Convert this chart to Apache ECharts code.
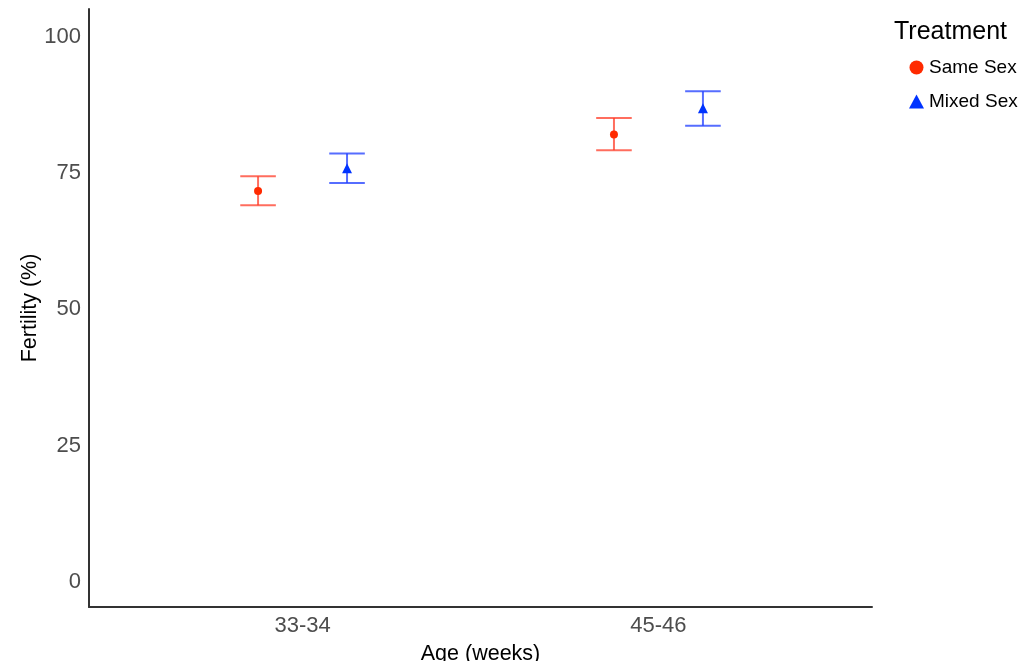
<!DOCTYPE html>
<html>
<head>
<meta charset="utf-8">
<script src="https://cdn.jsdelivr.net/npm/echarts@6/dist/echarts.min.js"></script>
<style>
  html, body { margin: 0; padding: 0; background: #fff; }
  #chart { width: 1035px; height: 661px; }
</style>
</head>
<body>
<div id="chart"></div>
<script>
// data
const categories = ["33-34", "45-46"]
const sameMean = [71.7, 82.1]
const sameLow = [69.1, 79.2]
const sameHigh = [74.4, 85.1]
const mixedMean = [75.9, 86.9]
const mixedLow = [73.2, 83.7]
const mixedHigh = [78.6, 90.0]
const yTicks = [0, 25, 50, 75, 100]

const dodge = 0.125
const capHalf = 0.05
const font = "Liberation Sans, Arial, sans-serif"

const pos = (i, side) => i + 1 + side * dodge

const errData = (low, high, side) =>
  categories.map((c, i) => [pos(i, side), low[i], high[i]])

const errSeries = (name, data, color) => ({
  name: name,
  type: "custom",
  silent: true,
  z: 2,
  data: data,
  encode: { x: 0, y: [1, 2] },
  renderItem: (params, api) => {
    const x = api.value(0)
    const lo = api.coord([x, api.value(1)])
    const hi = api.coord([x, api.value(2)])
    const l = api.coord([x - capHalf, api.value(1)])[0]
    const r = api.coord([x + capHalf, api.value(1)])[0]
    const style = { stroke: color, lineWidth: 2 }
    return {
      type: "group",
      children: [
        { type: "line", shape: { x1: lo[0], y1: lo[1], x2: hi[0], y2: hi[1] }, style },
        { type: "line", shape: { x1: l, y1: lo[1], x2: r, y2: lo[1] }, style },
        { type: "line", shape: { x1: l, y1: hi[1], x2: r, y2: hi[1] }, style }
      ]
    }
  }
})

const chart = echarts.init(document.getElementById("chart"))
chart.setOption({
  animation: false,
  backgroundColor: "#fff",
  textStyle: { fontFamily: font },
  title: {
    text: "Treatment",
    left: 889,
    top: 15,
    textStyle: { fontFamily: font, fontSize: 25, fontWeight: "normal", color: "#000" }
  },
  legend: {
    data: [
      { name: "Same Sex", icon: "circle" },
      { name: "Mixed Sex", icon: "triangle" }
    ],
    orient: "vertical",
    left: 904,
    top: 53,
    itemWidth: 15,
    itemHeight: 14,
    itemGap: 15,
    textStyle: { fontFamily: font, fontSize: 19, color: "#000", padding: [0, 0, 0, 0] }
  },
  grid: { left: 89, right: 163, top: 9, bottom: 54, outerBoundsMode: "none" },
  xAxis: {
    type: "value",
    min: 0.4,
    max: 2.6,
    name: "Age (weeks)",
    nameLocation: "middle",
    nameGap: 36,
    nameTextStyle: { fontFamily: font, fontSize: 21.5, color: "#000" },
    splitLine: { show: false },
    axisTick: { show: false },
    axisLine: { onZero: false, lineStyle: { color: "#333", width: 2 } },
    axisLabel: {
      customValues: categories.map((c, i) => i + 1),
      formatter: v => categories[Math.round(v) - 1] || "",
      fontSize: 22,
      color: "#4d4d4d",
      margin: 8
    }
  },
  yAxis: {
    type: "value",
    min: -4.6,
    max: 105.1,
    name: "Fertility (%)",
    nameLocation: "middle",
    nameGap: 48,
    nameMoveOverlap: false,
    nameRotate: 90,
    nameTextStyle: { fontFamily: font, fontSize: 21.5, color: "#000" },
    splitLine: { show: false },
    axisTick: { show: false },
    axisLine: { show: true, onZero: false, lineStyle: { color: "#333", width: 2 } },
    axisLabel: {
      customValues: yTicks,
      fontSize: 22,
      color: "#4d4d4d",
      margin: 8
    }
  },
  series: [
    errSeries("sameErr", errData(sameLow, sameHigh, -1), "rgba(255,60,40,0.75)"),
    errSeries("mixedErr", errData(mixedLow, mixedHigh, 1), "rgba(30,60,255,0.75)"),
    {
      name: "Same Sex",
      type: "scatter",
      symbol: "circle",
      symbolSize: 8,
      z: 3,
      itemStyle: { color: "#ff2a00", opacity: 1 },
      data: categories.map((c, i) => [pos(i, -1), sameMean[i]])
    },
    {
      name: "Mixed Sex",
      type: "scatter",
      symbol: "triangle",
      symbolSize: 10,
      z: 3,
      itemStyle: { color: "#0033ff", opacity: 1 },
      data: categories.map((c, i) => [pos(i, 1), mixedMean[i]])
    }
  ]
})
</script>
</body>
</html>
